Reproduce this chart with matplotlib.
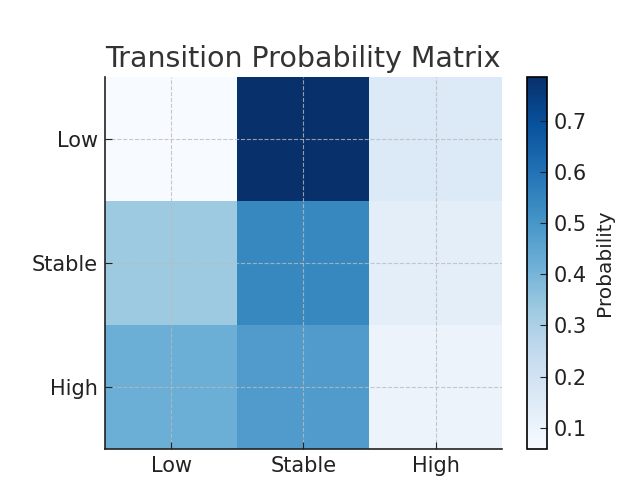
import numpy as np
import matplotlib
matplotlib.use('Agg')
import matplotlib.pyplot as plt

plt.rcParams['font.family'] = 'DejaVu Sans'

states = ['Low', 'Stable', 'High']
row_low = [0.059, 0.785, 0.156]
row_stable = [0.331, 0.540, 0.129]
row_high = [0.420, 0.480, 0.100]

matrix = np.array([row_low, row_stable, row_high])

fig = plt.figure(figsize=(6.4, 5.01), dpi=100)
ax = fig.add_axes([0.164, 0.104, 0.620, 0.742])
cax = fig.add_axes([0.823, 0.104, 0.031, 0.742])

im = ax.imshow(matrix, cmap='Blues', aspect='auto')
ax.set_xticks(range(len(states)))
ax.set_xticklabels(states)
ax.set_yticks(range(len(states)))
ax.set_yticklabels(states)
ax.tick_params(direction='in', labelsize=15, colors='#222222', length=5, pad=5)
ax.grid(True, linestyle='--', color='#bbbbbb', linewidth=0.8, alpha=0.8)
for side in ['top', 'right']:
    ax.spines[side].set_visible(False)
for side in ['left', 'bottom']:
    ax.spines[side].set_linewidth(1.2)
    ax.spines[side].set_color('#222222')
ax.set_title('Transition Probability Matrix', fontsize=20.5, color='#333333', pad=7)

cbar = fig.colorbar(im, cax=cax)
cbar.set_label('Probability', fontsize=14.5, color='#222222', labelpad=6)
cbar.ax.tick_params(direction='in', labelsize=15, colors='#222222', length=5, pad=5)
cbar.outline.set_linewidth(1.2)

plt.savefig('out.png', dpi=100)
